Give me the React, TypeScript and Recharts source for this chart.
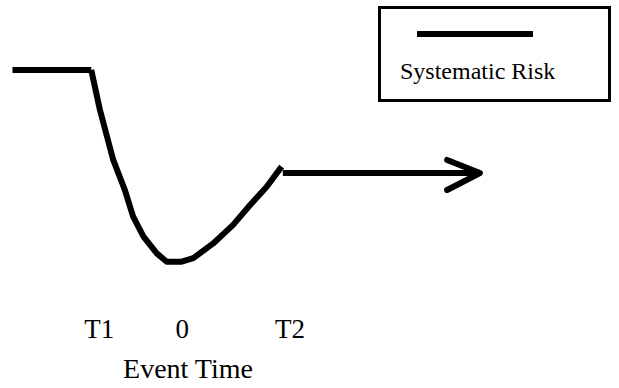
import { LineChart, Line, XAxis, YAxis, Legend } from "recharts";

// event time units (T1 = -20, event day = 0, T2 = 26), risk level in arbitrary units
const preEvent = [
  { t: -39, risk: 80 },
  { t: -20, risk: 80 },
];

const eventWindow = [
  { t: -20, risk: 80 },
  { t: -17.9, risk: 67.5 },
  { t: -14.7, risk: 51.9 },
  { t: -11.9, risk: 42.5 },
  { t: -9.9, risk: 34.2 },
  { t: -7.4, risk: 27.9 },
  { t: -4.2, risk: 22.7 },
  { t: -1.8, risk: 20.1 },
  { t: 1.8, risk: 20.1 },
  { t: 4.6, risk: 21.2 },
  { t: 9.4, risk: 25.8 },
  { t: 14.2, risk: 31.6 },
  { t: 18.3, risk: 37.8 },
  { t: 22.3, risk: 43.5 },
  { t: 25.9, risk: 49.8 },
];

const postEvent = [
  { t: 26.2, risk: 47.8 },
  { t: 73.4, risk: 47.8 },
];

const arrowHead = [
  { t: 65.8, risk: 51.9 },
  { t: 73.7, risk: 47.8 },
  { t: 65.8, risk: 42.5 },
];

const tickValues = [-20, 0, 26];
const tickLabels = ["T1", "0", "T2"];

const serif = "'Liberation Serif', 'Times New Roman', serif";

const renderTick = (props: any) => {
  const { x, y, payload } = props;
  const idx = tickValues.indexOf(payload.value);
  return (
    <text
      x={x + 8}
      y={y + 12}
      textAnchor="middle"
      fontFamily={serif}
      fontSize={27}
      fill="#000"
    >
      {tickLabels[idx]}
    </text>
  );
};

const renderLegend = () => (
  <div
    style={{
      position: "relative",
      width: 233,
      height: 96,
      border: "3px solid #000",
      boxSizing: "border-box",
      background: "#fff",
    }}
  >
    <div
      style={{
        position: "absolute",
        left: 36,
        top: 22,
        width: 116,
        height: 6,
        background: "#000",
      }}
    />
    <div
      style={{
        position: "absolute",
        left: 19,
        top: 48,
        fontFamily: serif,
        fontSize: 24,
        lineHeight: "28px",
        color: "#000",
        whiteSpace: "nowrap",
      }}
    >
      Systematic Risk
    </div>
  </div>
);

export default function App() {
  return (
    <div style={{ position: "absolute", left: 0, top: 0, background: "#fff" }}>
      <LineChart
        width={619}
        height={388}
        margin={{ top: 6, right: 1, left: 0, bottom: 0 }}
      >
        <XAxis
          dataKey="t"
          type="number"
          domain={[-42, 107]}
          ticks={tickValues}
          tick={renderTick}
          axisLine={false}
          tickLine={false}
          tickSize={0}
          tickMargin={0}
          height={62}
          allowDataOverflow
          label={{
            content: () => (
              <text
                x={188}
                y={378}
                textAnchor="middle"
                fontFamily={serif}
                fontSize={28}
                fill="#000"
              >
                Event Time
              </text>
            ),
          }}
        />
        <YAxis type="number" domain={[0, 100]} hide allowDataOverflow />
        <Legend
          layout="horizontal"
          align="center"
          verticalAlign="middle"
          content={renderLegend}
          wrapperStyle={{ position: "absolute", left: 378, top: 6, width: 233, height: 96 }}
        />
        <Line
          data={preEvent}
          dataKey="risk"
          stroke="#000"
          strokeWidth={6}
          dot={false}
          type="linear"
          isAnimationActive={false}
          legendType="none"
        />
        <Line
          data={eventWindow}
          dataKey="risk"
          stroke="#000"
          strokeWidth={6}
          dot={false}
          type="linear"
          strokeLinejoin="round"
          isAnimationActive={false}
          legendType="none"
        />
        <Line
          data={postEvent}
          dataKey="risk"
          stroke="#000"
          strokeWidth={6}
          dot={false}
          type="linear"
          isAnimationActive={false}
          legendType="none"
        />
        <Line
          data={arrowHead}
          dataKey="risk"
          stroke="#000"
          strokeWidth={6}
          dot={false}
          type="linear"
          strokeLinejoin="round"
          strokeLinecap="round"
          isAnimationActive={false}
          legendType="none"
        />
      </LineChart>
    </div>
  );
}
